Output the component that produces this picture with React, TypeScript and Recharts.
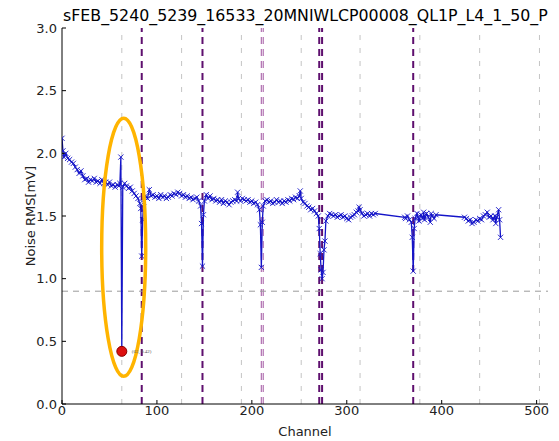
import React from "react";
import {
  LineChart,
  Line,
  XAxis,
  YAxis,
  ReferenceLine,
  ReferenceDot,
} from "recharts";

const title = "sFEB_5240_5239_16533_20MNIWLCP00008_QL1P_L4_1_50_P";

// channel numbers (gaps 331-360 and 395-423 have no data)
const channels = [
  0, 1, 2, 4, 6, 8, 10, 12, 14, 16,
  18, 20, 22, 24, 26, 28, 30, 32, 34, 36,
  38, 40, 42, 44, 46, 48, 50, 52, 54, 56,
  58, 60, 61, 62, 63, 64, 66, 68, 70, 72,
  74, 76, 78, 80, 82, 83, 84, 85, 86, 88,
  90, 92, 94, 96, 98, 100, 102, 104, 106, 108,
  110, 112, 114, 116, 118, 120, 122, 124, 126, 128,
  130, 132, 134, 136, 138, 140, 142, 144, 146, 147,
  148, 149, 150, 152, 154, 156, 158, 160, 162, 164,
  166, 168, 170, 172, 174, 176, 178, 180, 182, 184,
  185, 186, 188, 190, 192, 194, 196, 198, 200, 202,
  204, 206, 208, 209, 210, 211, 212, 214, 216, 218,
  220, 222, 224, 226, 228, 230, 232, 234, 236, 238,
  240, 242, 244, 246, 248, 250, 251, 252, 254, 256,
  258, 260, 262, 264, 266, 268, 270, 271, 272, 273,
  274, 275, 276, 277, 278, 280, 282, 284, 286, 288,
  290, 292, 294, 296, 298, 300, 302, 304, 306, 308,
  310, 312, 313, 314, 316, 318, 320, 322, 324, 326,
  328, 330, 361, 362, 364, 366, 368, 369, 370, 371,
  372, 374, 375, 376, 378, 380, 381, 382, 384, 386,
  388, 389, 390, 392, 394, 424, 426, 428, 430, 432,
  434, 436, 438, 440, 442, 444, 446, 448, 450, 452,
  454, 456, 457, 458, 460, 461, 462,
];

// noise RMS in mV, one per channel above
const rmsValues = [
  2.12, 2.02, 1.97, 2.0, 1.96, 1.95, 1.93, 1.92, 1.89, 1.87,
  1.84, 1.86, 1.82, 1.79, 1.8, 1.77, 1.79, 1.78, 1.8, 1.77,
  1.78, 1.76, 1.79, 1.76, 1.77, 1.75, 1.77, 1.74, 1.75, 1.73,
  1.75, 1.74, 1.76, 1.97, 0.42, 1.73, 1.76, 1.74, 1.72, 1.73,
  1.7, 1.68, 1.66, 1.64, 1.6, 1.56, 1.18, 1.47, 1.61, 1.66,
  1.64, 1.71, 1.66, 1.67, 1.65, 1.66, 1.64, 1.67, 1.65, 1.66,
  1.64, 1.65, 1.67, 1.66, 1.68, 1.67, 1.69, 1.68, 1.66, 1.67,
  1.65, 1.66, 1.64, 1.65, 1.63, 1.64, 1.65, 1.62, 1.58, 1.44,
  1.1, 1.51, 1.62, 1.67, 1.64, 1.66, 1.63, 1.64, 1.62, 1.63,
  1.61, 1.63, 1.6, 1.62, 1.61, 1.59, 1.61, 1.62, 1.63, 1.62,
  1.69, 1.64, 1.62, 1.64, 1.63, 1.62, 1.63, 1.61, 1.62, 1.6,
  1.61, 1.59, 1.55, 1.43, 1.09, 1.45, 1.58, 1.62, 1.63, 1.61,
  1.62, 1.6, 1.61, 1.63, 1.61, 1.62, 1.6, 1.62, 1.61, 1.63,
  1.62, 1.64, 1.63, 1.65, 1.64, 1.66, 1.7, 1.64, 1.61, 1.6,
  1.58, 1.57, 1.55, 1.56, 1.54, 1.52, 1.5, 1.4, 1.2, 1.07,
  1.0, 1.05, 1.23, 1.3, 1.46, 1.5, 1.52, 1.51, 1.5, 1.51,
  1.49, 1.5, 1.51, 1.49, 1.5, 1.48, 1.47, 1.49, 1.5, 1.51,
  1.53, 1.54, 1.57, 1.55, 1.52, 1.5, 1.51, 1.52, 1.5, 1.52,
  1.51, 1.52, 1.49, 1.48, 1.5, 1.47, 1.45, 1.33, 1.06, 1.4,
  1.48, 1.52, 1.49, 1.46, 1.51, 1.48, 1.53, 1.47, 1.52, 1.49,
  1.45, 1.52, 1.5, 1.48, 1.51, 1.49, 1.48, 1.46, 1.47, 1.44,
  1.45, 1.47, 1.46, 1.48, 1.47, 1.5, 1.51, 1.53, 1.49, 1.5,
  1.47, 1.5, 1.44, 1.49, 1.55, 1.47, 1.33,
];

const xTicks = [0, 100, 200, 300, 400, 500];
const yTicks = [0, 0.5, 1.0, 1.5, 2.0, 2.5, 3.0];

// chip boundaries (grey) and flagged channels (purple)
const boundaryChannels = [63, 126, 189, 252, 314, 377, 440, 503];
const flaggedChannels = [84, 148, 271, 274, 370];
const softFlaggedChannels = [210, 212];
const threshold = 0.9;
const deadChannel = { channel: 63, rms: 0.42 };

const data = channels.map((c, i) => ({ channel: c, rms: rmsValues[i] }));

const XMark = (props: any) => {
  const { cx, cy } = props;
  if (cx == null || cy == null) return null;
  const s = 2.6;
  return (
    <path
      d={`M${cx - s},${cy - s}L${cx + s},${cy + s}M${cx - s},${cy + s}L${cx + s},${cy - s}`}
      stroke="#1414c8"
      strokeWidth={0.9}
      fill="none"
    />
  );
};

const Ellipse = (props: any) => {
  const { cx, cy } = props;
  if (cx == null || cy == null) return null;
  return <ellipse cx={cx} cy={cy} rx={22} ry={129} fill="none" stroke="#ffb400" strokeWidth={3.5} />;
};

const font = "'DejaVu Sans', sans-serif";
const tickStyle = { fill: "#222", fontSize: 13, fontFamily: font };

export default function App() {
  return (
    <div style={{ position: "absolute", left: 0, top: 0, width: 559, height: 441, background: "#fff" }}>
      <div
        style={{
          position: "absolute",
          left: 63,
          top: 6,
          fontFamily: font,
          fontSize: 15.8,
          whiteSpace: "nowrap",
          color: "#000",
          lineHeight: "19px",
        }}
      >
        {title}
      </div>
      <LineChart
        width={559}
        height={441}
        data={data}
        margin={{ top: 28, right: 11, bottom: 0, left: 0 }}
      >
        <XAxis
          dataKey="channel"
          type="number"
          domain={[0, 512]}
          ticks={xTicks}
          allowDataOverflow
          height={37}
          tick={tickStyle}
          tickSize={-4}
          tickMargin={6}
          tickLine={{ stroke: "#000" }}
          axisLine={{ stroke: "#000", strokeWidth: 1 }}
          label={{ value: "Channel", position: "insideBottom", offset: 5, fill: "#222", fontSize: 13, fontFamily: font }}
        />
        <XAxis
          xAxisId="top"
          orientation="top"
          dataKey="channel"
          type="number"
          domain={[0, 512]}
          ticks={xTicks}
          height={0}
          tickFormatter={() => ""}
          tickSize={-4}
          tickLine={{ stroke: "#000" }}
          axisLine={{ stroke: "#000", strokeWidth: 1 }}
        />
        <YAxis
          type="number"
          domain={[0, 3]}
          ticks={yTicks}
          width={62}
          tick={tickStyle}
          tickFormatter={(v: number) => v.toFixed(1)}
          tickSize={-4}
          tickMargin={9}
          tickLine={{ stroke: "#000" }}
          axisLine={{ stroke: "#000", strokeWidth: 1 }}
          label={{
            value: "Noise RMS[mV]",
            angle: -90,
            position: "insideLeft",
            offset: 30,
            fill: "#222",
            fontSize: 13,
            fontFamily: font,
            style: { textAnchor: "middle" },
          }}
        />
        <YAxis
          yAxisId="right"
          orientation="right"
          type="number"
          domain={[0, 3]}
          ticks={yTicks}
          width={0}
          tickFormatter={() => ""}
          tickSize={-4}
          tickLine={{ stroke: "#000" }}
          axisLine={{ stroke: "#000", strokeWidth: 1 }}
        />
        {boundaryChannels.map((c) => (
          <ReferenceLine key={`b${c}`} x={c} stroke="#c4c4c4" strokeWidth={1} strokeDasharray="5 8" />
        ))}
        {softFlaggedChannels.map((c) => (
          <ReferenceLine key={`s${c}`} x={c} stroke="#b070b0" strokeWidth={1.2} strokeDasharray="7 5" />
        ))}
        {flaggedChannels.map((c) => (
          <ReferenceLine key={`f${c}`} x={c} stroke="#5e0f6e" strokeWidth={2} strokeDasharray="7 5" />
        ))}
        <ReferenceLine y={threshold} stroke="#9a9a9a" strokeWidth={1} strokeDasharray="6 5" />
        <Line
          type="linear"
          dataKey="rms"
          stroke="#1414c8"
          strokeWidth={1.3}
          dot={<XMark />}
          activeDot={false}
          isAnimationActive={false}
        />
        <ReferenceDot x={65} y={1.25} shape={<Ellipse />} />
        <ReferenceDot
          x={deadChannel.channel}
          y={deadChannel.rms}
          r={5}
          fill="#dd1010"
          stroke="#8a0000"
          strokeWidth={1}
          label={{ value: `(${deadChannel.channel}, ${deadChannel.rms})`, position: "right", fontSize: 5, fill: "#555" }}
        />
      </LineChart>
    </div>
  );
}
